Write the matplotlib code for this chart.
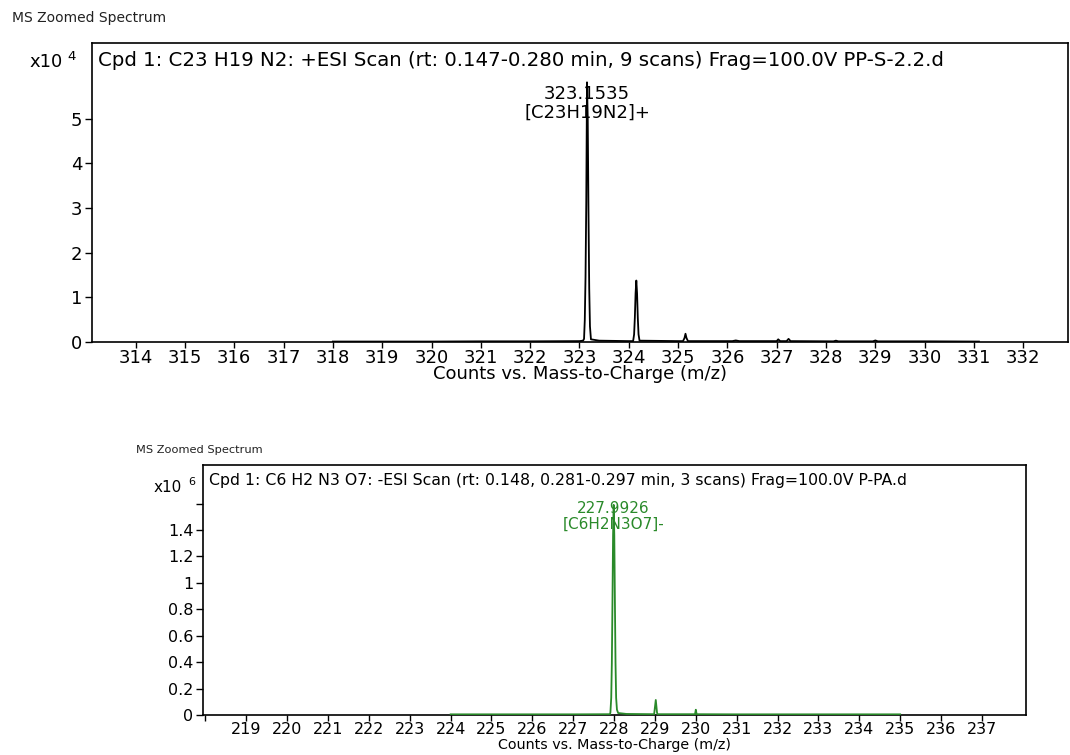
import matplotlib
matplotlib.use("Agg")
import matplotlib.pyplot as plt

# +ESI spectrum profile (m/z, counts x10^4)
top_mz = [318.0, 319.0, 320.0, 321.0, 322.0, 323.0, 323.073, 323.093, 323.108,
          323.123, 323.138, 323.153, 323.168, 323.183, 323.198, 323.213, 323.233,
          323.4, 324.0, 324.088, 324.108, 324.123, 324.138, 324.153, 324.168,
          324.183, 324.198, 324.218, 325.0, 325.10, 325.13, 325.15, 325.17, 325.20,
          326.1, 326.17, 326.24, 327.0, 327.03, 327.07, 327.2, 327.24, 327.28,
          328.15, 328.2, 328.25, 328.95, 329.0, 329.05, 330.0, 331.1]
top_counts = [0.01, 0.01, 0.01, 0.015, 0.015, 0.02, 0.03, 0.07, 0.49, 1.45,
              3.13, 5.81, 4.98, 2.9, 1.2, 0.35, 0.06,
              0.03, 0.02, 0.02, 0.17, 0.54, 1.09, 1.375, 1.09,
              0.54, 0.17, 0.03, 0.02, 0.02, 0.09, 0.185, 0.09, 0.02,
              0.02, 0.035, 0.02, 0.02, 0.06, 0.02, 0.02, 0.07, 0.02,
              0.015, 0.03, 0.015, 0.015, 0.035, 0.015, 0.015, 0.01]

# -ESI spectrum profile (m/z, counts x10^6)
bot_mz = [224.0, 225.0, 226.0, 227.0, 227.9, 227.91, 227.93, 227.945, 227.96,
          227.975, 227.99, 228.005, 228.02, 228.035, 228.05, 228.07, 228.1, 228.3,
          228.98, 229.02, 229.05, 229.06, 229.98, 230.0, 230.02, 231.0,
          232.0, 233.0, 234.0, 235.0]
bot_counts = [0.005, 0.005, 0.005, 0.005, 0.006, 0.02, 0.13, 0.39, 0.85,
              1.36, 1.59, 1.36, 0.85, 0.39, 0.13, 0.04, 0.015, 0.008,
              0.006, 0.114, 0.02, 0.006, 0.006, 0.04, 0.006, 0.005,
              0.005, 0.005, 0.005, 0.005]

top_xticks = list(range(314, 333))
top_yticks = [0, 1, 2, 3, 4, 5]
bot_xticks = list(range(218, 238))
bot_xlabels = [""] + [str(v) for v in range(219, 238)]
bot_yticks = [0, 0.2, 0.4, 0.6, 0.8, 1.0, 1.2, 1.4, 1.6]
bot_ylabels = ["0", "0.2", "0.4", "0.6", "0.8", "1", "1.2", "1.4", ""]

top_title = "Cpd 1: C23 H19 N2: +ESI Scan (rt: 0.147-0.280 min, 9 scans) Frag=100.0V PP-S-2.2.d"
bot_title = "Cpd 1: C6 H2 N3 O7: -ESI Scan (rt: 0.148, 0.281-0.297 min, 3 scans) Frag=100.0V P-PA.d"
xlabel = "Counts vs. Mass-to-Charge (m/z)"

plt.rcParams["font.family"] = "DejaVu Sans"

W, H = 1070, 755
fig = plt.figure(figsize=(W / 100, H / 100), dpi=100)


def px(x, y):
    return x / W, 1 - y / H


def add_panel(left, top, right, bottom, xlim, ylim, xticks, xlabels, yticks, ylabels, fs):
    ax = fig.add_axes([left / W, 1 - bottom / H, (right - left) / W, (bottom - top) / H])
    ax.set_xlim(*xlim)
    ax.set_ylim(*ylim)
    ax.set_xticks(xticks)
    ax.set_xticklabels(xlabels)
    ax.set_yticks(yticks)
    ax.set_yticklabels(ylabels)
    ax.tick_params(direction="out", length=5, width=1, labelsize=fs, pad=2, colors="black")
    ax.tick_params(axis="x", length=4, pad=1)
    for s in ax.spines.values():
        s.set_linewidth(1.2)
    return ax


# top panel
fig.text(*px(12, 18), "MS Zoomed Spectrum", fontsize=10, va="center", ha="left", color="#222222")
ax1 = add_panel(92, 43, 1068, 342, (313.116, 332.906), (0, 6.69),
                top_xticks, [str(v) for v in top_xticks], top_yticks,
                [str(v) for v in top_yticks], 13)
ax1.plot(top_mz, top_counts, color="black", lw=1.3, zorder=3)
ax1.text(323.153, 5.56, "323.1535", ha="center", va="center", fontsize=13, zorder=1)
ax1.text(323.153, 5.12, "[C23H19N2]+", ha="center", va="center", fontsize=13, zorder=1)
fig.text(*px(98, 61), top_title, fontsize=14.2, ha="left", va="center")
fig.text(*px(63, 62), "x10", fontsize=13, ha="right", va="center")
fig.text(*px(67, 56), "4", fontsize=9.5, ha="left", va="center")
fig.text(*px(580, 374), xlabel, fontsize=13, ha="center", va="center")

# bottom panel
fig.text(*px(136, 450), "MS Zoomed Spectrum", fontsize=8.2, va="center", ha="left", color="#222222")
ax2 = add_panel(203, 465, 1026, 715, (217.94, 238.08), (0, 1.892),
                bot_xticks, bot_xlabels, bot_yticks, bot_ylabels, 11.5)
ax2.plot(bot_mz, bot_counts, color="#2a8a2a", lw=1.3, zorder=3)
ax2.text(227.99, 1.565, "227.9926", ha="center", va="center", fontsize=11, color="#2a8a2a", zorder=1)
ax2.text(227.99, 1.44, "[C6H2N3O7]-", ha="center", va="center", fontsize=11, color="#2a8a2a", zorder=1)
fig.text(*px(209, 481), bot_title, fontsize=11.3, ha="left", va="center")
fig.text(*px(182, 488), "x10", fontsize=11, ha="right", va="center")
fig.text(*px(188, 482), "6", fontsize=8, ha="left", va="center")
fig.text(*px(615, 745), xlabel, fontsize=10.3, ha="center", va="center")

fig.savefig("out.png", dpi=100)
